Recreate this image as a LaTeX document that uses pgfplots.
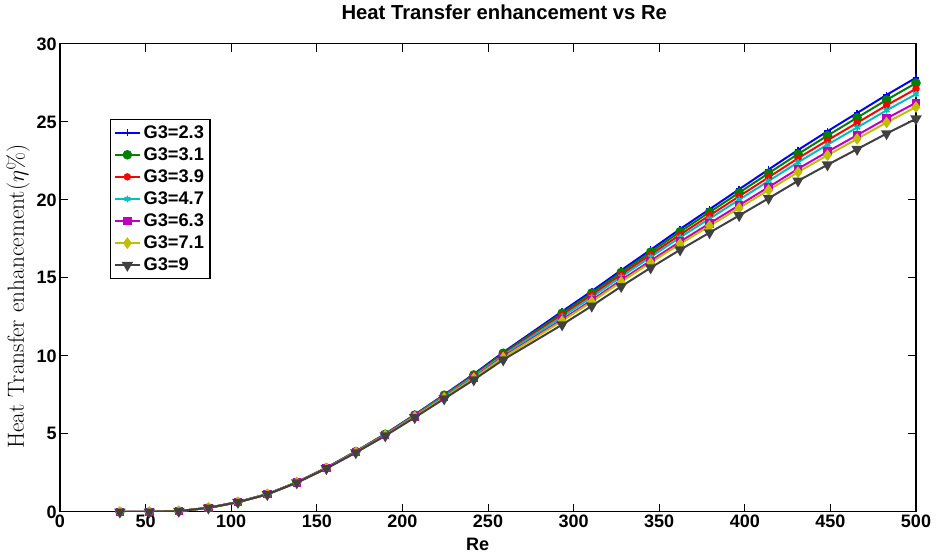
\documentclass[border=0pt]{standalone}
\usepackage{pgfplots}
\pgfplotsset{compat=1.18}
\usepackage{pgfplotstable}
\usetikzlibrary{calc}
\usepackage{fontspec}
\newfontfamily\arialb[BoldFont={Liberation Sans Bold}]{Liberation Sans}
\pgfplotstableread{
x     a     b     c     d     e     f     g
35.0  0.00  0.00  0.00  0.00  0.00  0.00  0.00
52.2  0.00  0.00  0.00  0.00  0.00  0.00  0.00
69.4  0.05  0.05  0.05  0.05  0.05  0.05  0.05
86.7  0.26  0.26  0.26  0.26  0.26  0.26  0.26
103.9 0.63  0.63  0.63  0.63  0.62  0.62  0.62
121.1 1.14  1.14  1.13  1.13  1.13  1.13  1.12
138.3 1.90  1.90  1.89  1.89  1.88  1.88  1.87
155.6 2.83  2.82  2.82  2.81  2.80  2.79  2.78
172.8 3.88  3.87  3.86  3.85  3.83  3.82  3.80
190.0 5.00  4.98  4.97  4.95  4.93  4.91  4.88
207.2 6.23  6.21  6.18  6.16  6.12  6.10  6.05
224.4 7.51  7.48  7.44  7.41  7.35  7.32  7.25
241.7 8.83  8.78  8.73  8.69  8.61  8.57  8.47
258.9 10.23 10.17 10.10 10.04 9.94  9.89  9.75
293.3 12.85 12.74 12.62 12.51 12.33 12.24 12.00
310.6 14.15 14.03 13.89 13.77 13.57 13.47 13.20
327.8 15.49 15.35 15.21 15.07 14.86 14.75 14.45
345.0 16.80 16.65 16.49 16.34 16.10 15.98 15.65
362.2 18.13 17.96 17.77 17.60 17.32 17.18 16.80
379.4 19.40 19.21 19.00 18.80 18.49 18.33 17.90
396.7 20.68 20.46 20.23 20.01 19.66 19.48 19.00
413.9 21.95 21.71 21.45 21.21 20.82 20.63 20.10
431.1 23.20 22.94 22.67 22.41 21.99 21.78 21.22
448.3 24.40 24.12 23.82 23.54 23.09 22.86 22.25
465.6 25.57 25.27 24.94 24.64 24.15 23.91 23.25
482.8 26.73 26.41 26.06 25.74 25.22 24.96 24.25
500.0 27.83 27.49 27.12 26.78 26.23 25.95 25.20
}\data
\definecolor{mgreen}{rgb}{0,0.5,0}
\definecolor{mcyan}{rgb}{0,0.75,0.75}
\definecolor{mmag}{rgb}{0.75,0,0.75}
\definecolor{myel}{rgb}{0.75,0.75,0}
\definecolor{mgray}{rgb}{0.25,0.25,0.25}
\begin{document}
\begin{tikzpicture}
\begin{axis}[
  scale only axis,
  width=642pt, height=351pt,
  xmin=0, xmax=500, ymin=0, ymax=30,
  xtick={0,50,...,500}, ytick={0,5,...,30},
  tick align=inside,
  major tick length=6pt,
  axis line style={line width=0.9pt},
  every tick/.style={black, line width=0.6pt},
  /pgf/number format/assume math mode=true,
  ticklabel style={font=\arialb\bfseries\fontsize{13.5}{15}\selectfont},
  xticklabel style={yshift=1pt},
  yticklabel style={xshift=1pt},
  title={\arialb\bfseries\fontsize{15.2}{17}\selectfont Heat Transfer enhancement vs Re},
  title style={at={(axis description cs:0.519,1.0513)}, anchor=center},
  xlabel={\arialb\bfseries\fontsize{13.5}{15}\selectfont Re},
  xlabel style={at={(axis description cs:0.488,-0.0705)}, anchor=center},
  ylabel={\fontsize{17.5}{19}\selectfont Heat Transfer enhancement$(\eta\%)$},
  ylabel style={at={(axis description cs:-0.049,0.46)}, anchor=center},
  legend style={at={(0.0584,0.84)}, anchor=north west, draw=black, line width=0.8pt,
    font=\arialb\bfseries\fontsize{13.7}{15}\selectfont, cells={anchor=west},
    row sep=1.5pt, inner sep=2.5pt},
  legend image code/.code={\draw[mark repeat=2,mark phase=2] plot coordinates {(0cm,0cm) (0.33cm,0cm) (0.66cm,0cm)};},
  every axis plot/.append style={line width=1.5pt},
]
\addplot[blue, mark=+, mark size=2.5pt, mark options={line width=1.2pt}] table[x=x,y=a] {\data};
\addlegendentry{G3=2.3}
\addplot[mgreen, mark=*, mark size=2.8pt] table[x=x,y=b] {\data};
\addlegendentry{G3=3.1}
\addplot[red, mark=*, mark size=2pt] table[x=x,y=c] {\data};
\addlegendentry{G3=3.9}
\addplot[mcyan, mark=asterisk, mark size=2.5pt, mark options={line width=1.2pt}] table[x=x,y=d] {\data};
\addlegendentry{G3=4.7}
\addplot[mmag, mark=square*, mark size=2.4pt] table[x=x,y=e] {\data};
\addlegendentry{G3=6.3}
\addplot[myel, mark=diamond*, mark size=3.2pt] table[x=x,y=f] {\data};
\addlegendentry{G3=7.1}
\addplot[mgray, mark=triangle*, mark size=3.5pt, mark options={rotate=180}] table[x=x,y=g] {\data};
\addlegendentry{G3=9}
\end{axis}
\path ($(current axis.south west)+(-45pt,-33.75pt)$) rectangle ($(current axis.north east)+(17.25pt,31.5pt)$);
\end{tikzpicture}
\end{document}
